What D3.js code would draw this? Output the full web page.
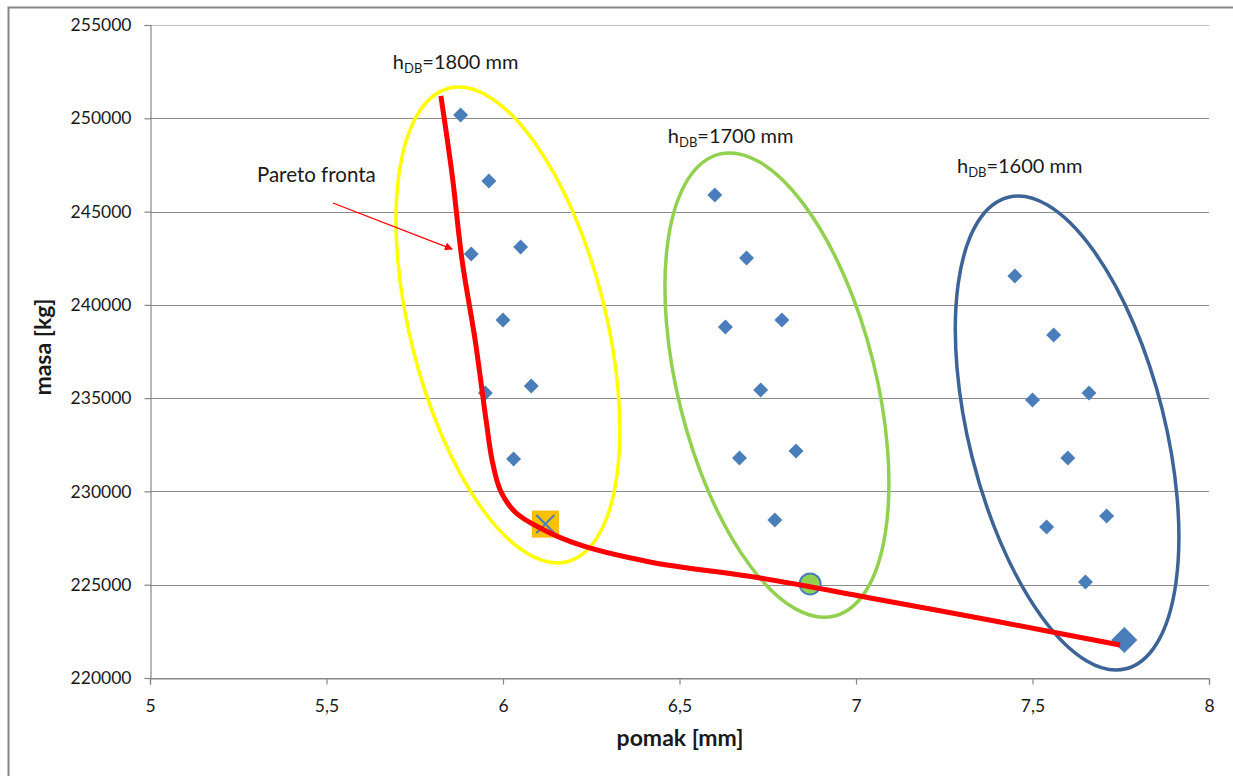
<!DOCTYPE html>
<html>
<head>
<meta charset="utf-8">
<script src="https://cdn.jsdelivr.net/npm/d3@7"></script>
<style>
body { margin: 0; background: #fff; }
text { font-family: Lato, "Open Sans", sans-serif; fill: #1a1a1a; }
</style>
</head>
<body>
<svg id="chart" width="1233" height="776"></svg>
<script>
// values
var xTicks = [5, 5.5, 6, 6.5, 7, 7.5, 8];
var yTicks = [220000, 225000, 230000, 235000, 240000, 245000, 250000, 255000];

var h1800 = [[5.88, 250180], [5.96, 246640], [5.91, 242730], [6.05, 243100], [6.00, 239190], [6.08, 235650], [5.95, 235280], [6.03, 231740]];
var h1700 = [[6.60, 245890], [6.69, 242510], [6.63, 238810], [6.79, 239190], [6.73, 235440], [6.67, 231790], [6.83, 232170], [6.77, 228470]];
var h1600 = [[7.45, 241550], [7.56, 238380], [7.50, 234900], [7.66, 235280], [7.60, 231790], [7.54, 228090], [7.71, 228680], [7.65, 225150]];

var best1800 = [6.12, 228250];
var best1700 = [6.87, 225040];
var best1600 = [7.76, 222040];

var paretoFront = [[5.824, 251200], [5.856, 246960], [5.884, 242400], [5.921, 238120], [5.952, 233830], [5.969, 231690], [5.992, 230080], [6.034, 228900], [6.105, 228040], [6.218, 227130], [6.416, 226220], [6.728, 225360], [7.040, 224290], [7.408, 223000], [7.748, 221770]];

var groupLabels = ["1800", "1700", "1600"];
var groupCentres = [[6.014, 238920], [6.776, 235700], [7.598, 233130]];
var groupLabelAt = [[5.688, 252630], [6.467, 248680], [7.286, 247070]];

var svg = d3.select("#chart");
var mLeft = 150, mRight = 1209, mTop = 25, mBottom = 678;

var x = d3.scaleLinear().domain([5, 8]).range([mLeft, mRight]);
var y = d3.scaleLinear().domain([220000, 255000]).range([mBottom, mTop]);
var fmt = d3.formatLocale({ decimal: ",", thousands: "", grouping: [3], currency: ["", ""] }).format("~g");

// outer frame
svg.append("rect").attr("x", 8.5).attr("y", 7.5).attr("width", 1226).attr("height", 772)
	.attr("fill", "none").attr("stroke", "#868686").attr("stroke-width", 2);

// grid
svg.append("g").selectAll("line").data(yTicks).join("line")
	.attr("x1", mLeft).attr("x2", mRight)
	.attr("y1", function (d) { return Math.round(y(d)) + 0.5; }).attr("y2", function (d) { return Math.round(y(d)) + 0.5; })
	.attr("stroke", function (d) { return d == 255000 ? "#bfbfbf" : "#8c8c8c"; }).attr("stroke-width", 1.2);

var xAxis = svg.append("g").attr("transform", "translate(0," + (mBottom + 0.5) + ")")
	.call(d3.axisBottom(x).tickValues(xTicks).tickSize(6).tickFormat(fmt));
var yAxis = svg.append("g").attr("transform", "translate(" + (mLeft + 0.5) + ",0)")
	.call(d3.axisLeft(y).tickValues(yTicks).tickSize(6).tickFormat(d3.format("d")));
[xAxis, yAxis].forEach(function (a) {
	a.select(".domain").attr("stroke", "#868686").attr("stroke-width", 1.2);
	a.selectAll(".tick line").attr("stroke", "#868686").attr("stroke-width", 1.2);
	a.selectAll("text").style("font-family", "Lato, sans-serif").style("font-size", "17.5px").attr("fill", "#1a1a1a");
});
xAxis.selectAll("text").attr("y", 21);
yAxis.selectAll("text").attr("x", -19);

// axis titles
svg.append("text").attr("x", 680).attr("y", 746).attr("text-anchor", "middle")
	.style("font-size", "23px").style("font-weight", "bold").text("pomak [mm]");
svg.append("text").attr("transform", "translate(51,347) rotate(-90)").attr("text-anchor", "middle")
	.style("font-size", "23px").style("font-weight", "bold").text("masa [kg]");

// groups outlined by tilted ellipses
var ringColours = ["#ffff00", "#92d050", "#3c6496"];
var ringSize = [[98, 244], [99, 238], [98, 243]];
svg.append("g").selectAll("ellipse").data(groupCentres).join("ellipse")
	.attr("transform", function (d) { return "translate(" + x(d[0]) + "," + y(d[1]) + ") rotate(-14)"; })
	.attr("rx", function (d, i) { return ringSize[i][0]; }).attr("ry", function (d, i) { return ringSize[i][1]; })
	.attr("fill", "none").attr("stroke", function (d, i) { return ringColours[i]; }).attr("stroke-width", 3.5);

// scatter diamonds
var diamond = d3.symbol().type(d3.symbolSquare).size(112);
svg.append("g").selectAll("path").data(h1800.concat(h1700, h1600)).join("path")
	.attr("d", diamond)
	.attr("transform", function (d) { return "translate(" + x(d[0]) + "," + y(d[1]) + ") rotate(45)"; })
	.attr("fill", "#4a7ebb");

// best of each group
var sq = svg.append("g").attr("transform", "translate(" + x(best1800[0]) + "," + y(best1800[1]) + ")");
sq.append("rect").attr("x", -13).attr("y", -13).attr("width", 26).attr("height", 26).attr("fill", "#ffc000").attr("stroke", "#f5b800");
sq.append("path").attr("d", "M-9,-9L9,9M-9,9L9,-9").attr("stroke", "#4a7ebb").attr("stroke-width", 2);
svg.append("circle").attr("cx", x(best1700[0])).attr("cy", y(best1700[1])).attr("r", 10.5)
	.attr("fill", "#92d050").attr("stroke", "#4a7ebb").attr("stroke-width", 2);
svg.append("path").attr("d", d3.symbol().type(d3.symbolSquare).size(340))
	.attr("transform", "translate(" + x(best1600[0]) + "," + y(best1600[1]) + ") rotate(45)")
	.attr("fill", "#4a7ebb");

// pareto front
svg.append("path").datum(paretoFront)
	.attr("d", d3.line().x(function (d) { return x(d[0]); }).y(function (d) { return y(d[1]); }).curve(d3.curveCatmullRom))
	.attr("fill", "none").attr("stroke", "#ff0000").attr("stroke-width", 5).attr("stroke-linejoin", "round");

// group labels h_DB=...
groupLabels.forEach(function (g, i) {
	var t = svg.append("text").attr("x", x(groupLabelAt[i][0])).attr("y", y(groupLabelAt[i][1])).style("font-size", "20px");
	t.append("tspan").text("h");
	t.append("tspan").attr("dy", 4).style("font-size", "13px").text("DB");
	t.append("tspan").attr("dy", -4).text("=" + g + " mm");
});

// pareto label with arrow
svg.append("defs").append("marker").attr("id", "arr").attr("viewBox", "0 0 10 10").attr("refX", 9).attr("refY", 5)
	.attr("markerWidth", 9).attr("markerHeight", 8).attr("orient", "auto").attr("markerUnits", "userSpaceOnUse")
	.append("path").attr("d", "M0,0L10,5L0,10Z").attr("fill", "#ff0000");
svg.append("line").attr("x1", x(5.518)).attr("y1", y(245460)).attr("x2", x(5.856)).attr("y2", y(242990))
	.attr("stroke", "#ff0000").attr("stroke-width", 1.3).attr("marker-end", "url(#arr)");
svg.append("text").attr("x", x(5.303)).attr("y", y(246590)).style("font-size", "20.5px").text("Pareto fronta");
</script>
</body>
</html>
